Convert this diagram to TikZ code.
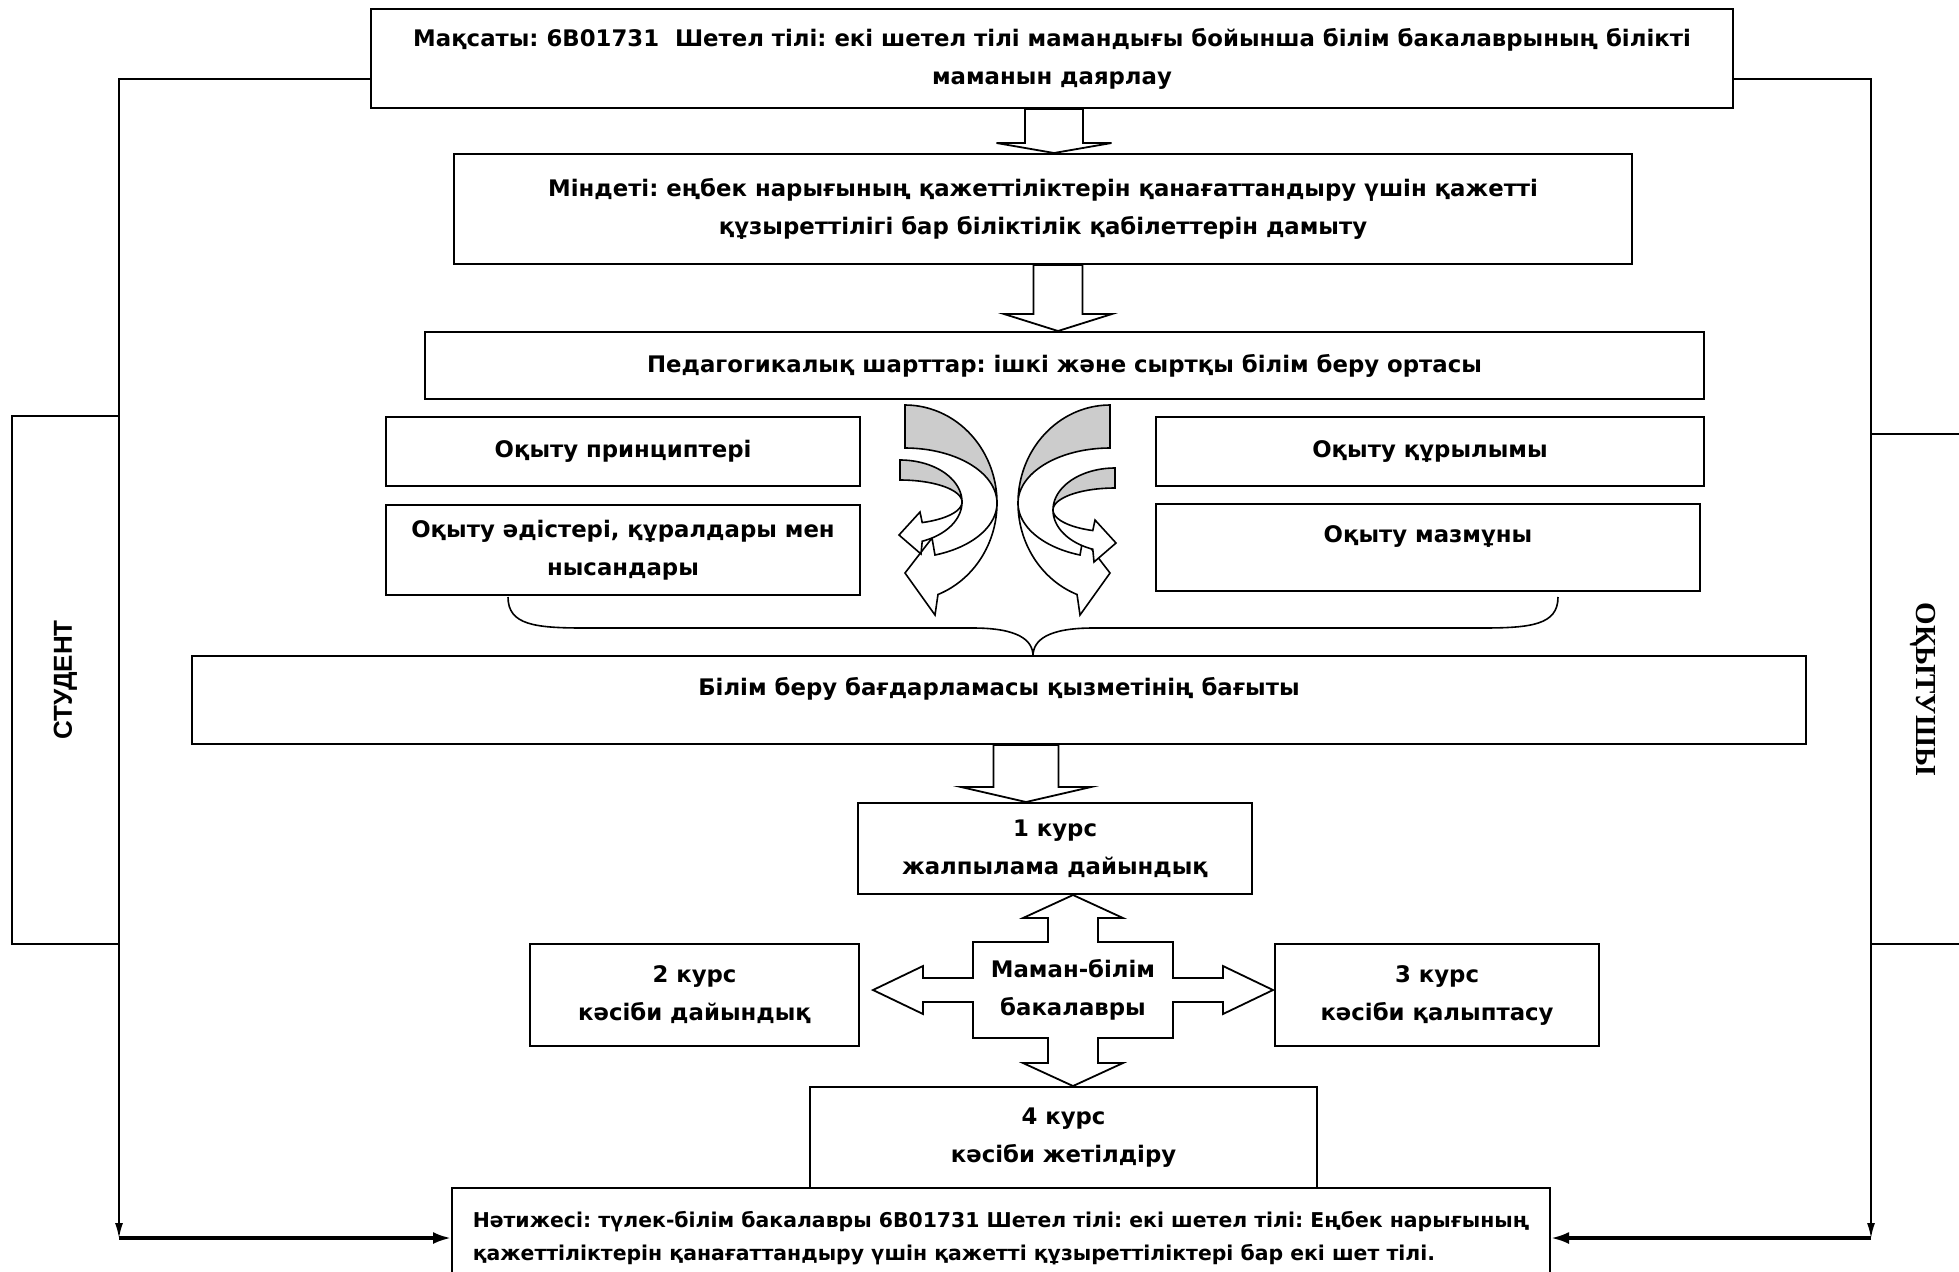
\documentclass[tikz,border=0pt]{standalone}
\usepackage{fontspec}
\setmainfont{DejaVu Sans}
\newfontfamily\arialfont{Liberation Sans}
\newfontfamily\timesfont{Liberation Serif}
\usepackage{tikz}
\usetikzlibrary{calc,arrows.meta}
\frenchspacing

\tikzset{
  boxsize/.style 2 args={minimum width=#1*0.5pt, minimum height=#2*0.5pt},
  box/.style={draw, line width=1pt, fill=white, align=center, inner sep=0pt,
    font=\bfseries\fontsize{11.4}{19}\selectfont},
  hollow/.style={draw, line width=0.9pt, fill=white},
  backface/.style={draw, line width=0.8pt, fill=black!20},
  frontface/.style={draw, line width=0.8pt, fill=white},
  link/.style={line width=0.8pt},
  feed/.style={line width=1.6pt},
}

\newcommand\hollowdown[6]{%
  \draw[hollow] ($(#1 |- #2.south)+(-#4,0)$) -- ($(#1 |- #3.north)+(-#4,-#6)$)
    -- ($(#1 |- #3.north)+(-#5,-#6)$) -- (#1 |- #3.north)
    -- ($(#1 |- #3.north)+(#5,-#6)$) -- ($(#1 |- #3.north)+(#4,-#6)$)
    -- ($(#1 |- #2.south)+(#4,0)$) -- cycle;}

\newcommand\bentpair[1]{%
  \filldraw[backface] plot[domain=-90:0,samples=40] ({905+92*cos(\x)},{503+98*sin(\x)})
    -- plot[domain=0:-90,samples=40] ({905+92*cos(\x)},{503+55*sin(\x)}) -- cycle;
  \filldraw[frontface] plot[domain=0:69,samples=40] ({905+92*cos(\x)},{503+98*sin(\x)})
    -- (935,615) -- (905,573) -- (932,538)
    -- plot[domain=71:0,samples=40] ({905+92*cos(\x)},{503+55*sin(\x)}) -- cycle;
  \begin{scope}[yshift=-#1*0.5pt]
    \filldraw[backface] plot[domain=-90:0,samples=40] ({900+62*cos(\x)},{502+42*sin(\x)})
      -- plot[domain=0:-90,samples=40] ({900+62*cos(\x)},{502+22*sin(\x)}) -- cycle;
    \filldraw[frontface] plot[domain=0:69,samples=40] ({900+62*cos(\x)},{502+42*sin(\x)})
      -- (921,554) -- (899,535) -- (920,512)
      -- plot[domain=69:0,samples=40] ({900+62*cos(\x)},{502+22*sin(\x)}) -- cycle;
  \end{scope}}

\begin{document}
\begin{tikzpicture}[x=0.5pt,y=-0.5pt]
\useasboundingbox[fill=white] (0,0) rectangle (1959,1271);

\coordinate (lt) at (119,79);
\coordinate (lb) at (119,1238);
\coordinate (rt) at (1871,79);
\coordinate (rb) at (1871,1238);

\draw[link,-{Latex[length=7.5pt,width=4pt]}] (371,79) -- (lt) -- (lb);
\draw[link,-{Latex[length=7.5pt,width=4pt]}] (1733,79) -- (rt) -- (rb);

\node[box, boxsize={1362}{99}] (goal) at (1052,58.5)
  {Мақсаты: 6B01731\ \ Шетел тілі: екі шетел тілі мамандығы бойынша білім бакалаврының білікті\\ маманын даярлау};
\node[box, boxsize={1178}{110}] (task) at (1043,209)
  {Міндеті: еңбек нарығының қажеттіліктерін қанағаттандыру үшін қажетті\\ құзыреттілігі бар біліктілік қабілеттерін дамыту};
\node[box, boxsize={1279}{67}] (cond) at (1064.5,365.5)
  {Педагогикалық шарттар: ішкі және сыртқы білім беру ортасы};
\node[box, boxsize={474}{69}] (princ) at (623,451.5) {Оқыту принциптері};
\node[box, boxsize={474}{90}] (meth) at (623,550) {Оқыту әдістері, құралдары мен\\ нысандары};
\node[box, boxsize={548}{69}] (struct) at (1430,451.5) {Оқыту құрылымы};
\node[box, boxsize={544}{87}, text height=8.5pt, text depth=13.6pt] (cont) at (1428,547.5) {Оқыту мазмұны};
\node[box, boxsize={1614}{88}, text height=8.5pt, text depth=12.6pt] (dir) at (999,700)
  {Білім беру бағдарламасы қызметінің бағыты};
\node[box, boxsize={394}{91}] (c1) at (1055,848.5) {1 курс\\ жалпылама дайындық};
\node[box, boxsize={329}{102}] (c2) at (694.5,995) {2 курс\\ кәсіби дайындық};
\node[box, boxsize={324}{102}] (c3) at (1437,995) {3 курс\\ кәсіби қалыптасу};
\node[box, boxsize={507}{101}] (c4) at (1063.5,1137.5) {4 курс\\ кәсіби жетілдіру};
\node[box, boxsize={1098}{100}, align=left, font=\bfseries\fontsize{10.2}{16.5}\selectfont] (res) at (1001,1238)
  {Нәтижесі: түлек-білім бакалавры 6B01731 Шетел тілі: екі шетел тілі: Еңбек нарығының\\
   қажеттіліктерін қанағаттандыру үшін қажетті құзыреттіліктері бар екі шет тілі.};
\node[box, rotate=90, boxsize={528}{107}, font=\arialfont\bfseries\fontsize{13}{14}\selectfont] (stud) at (65.5,680) {СТУДЕНТ};
\node[box, rotate=-90, boxsize={510}{104}, font=\timesfont\bfseries\fontsize{14.5}{16}\selectfont] (teach) at (1923,689) {ОҚЫТУШЫ};

\draw[feed,-{Latex[length=9pt,width=6pt]}] (lb) -- (res.west);
\draw[feed,-{Latex[length=9pt,width=6pt]}] (rb) -- (res.east);

\coordinate (a1) at (1054,0);
\coordinate (a2) at (1058,0);
\coordinate (a3) at (1026,0);
\hollowdown{a1}{goal}{task}{29}{57.5}{10}
\hollowdown{a2}{task}{cond}{24.5}{54}{17}
\hollowdown{a3}{dir}{c1}{32.5}{65}{15}

\bentpair{0}
\begin{scope}[shift={(2015,0)}, xscale=-1]
\bentpair{8}
\end{scope}

\coordinate (brl) at (508,597);
\coordinate (brr) at (1558,597);
\coordinate (brt) at (1033,656);
\draw[link] (brl) .. controls (508,625) and (535,628) .. (585,628) -- (973,628)
  .. controls (1018,628) and (1033,640) .. (brt);
\draw[link] (brr) .. controls (1558,625) and (1531,628) .. (1481,628) -- (1093,628)
  .. controls (1048,628) and (1033,640) .. (brt);

\coordinate (hub) at (1073,990);
\draw[hollow, shift={(hub)}] (0,-95) -- (50,-72) -- (25,-72) -- (25,-48) -- (100,-48) -- (100,-12)
  -- (150,-12) -- (150,-24) -- (200,0) -- (150,24) -- (150,12) -- (100,12) -- (100,48) -- (25,48)
  -- (25,73) -- (50,73) -- (0,96) -- (-50,73) -- (-25,73) -- (-25,48) -- (-100,48) -- (-100,12)
  -- (-150,12) -- (-150,24) -- (-200,0) -- (-150,-24) -- (-150,-12) -- (-100,-12) -- (-100,-48)
  -- (-25,-48) -- (-25,-72) -- (-50,-72) -- cycle;
\node[align=center, inner sep=0pt, font=\bfseries\fontsize{11.4}{19}\selectfont] (mb) at (hub) {Маман-білім\\ бакалавры};
\end{tikzpicture}
\end{document}
